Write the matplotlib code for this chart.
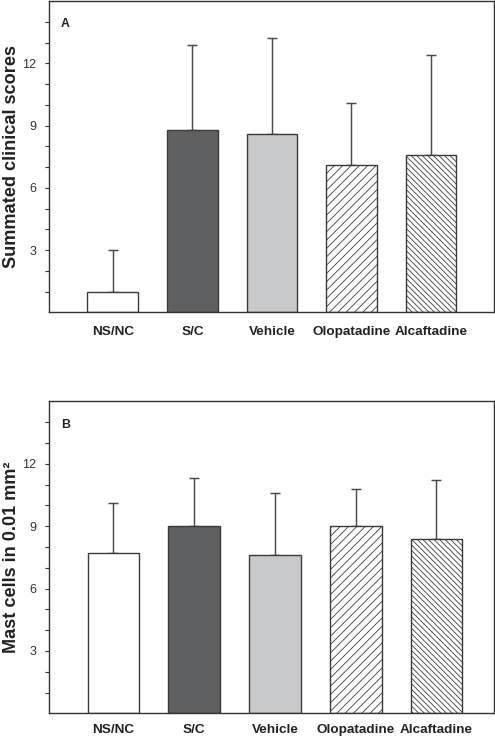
"""
Clinical scores and mast cell counts, two bar panels
"""
import numpy as np
import matplotlib
matplotlib.use('Agg')
import matplotlib.pyplot as plt

plt.rcParams['font.family'] = ['Liberation Sans', 'DejaVu Sans']
plt.rcParams['hatch.linewidth'] = 0.6
plt.rcParams['hatch.color'] = '#555555'

# data
groups = ['NS/NC', 'S/C', 'Vehicle', 'Olopatadine', 'Alcaftadine']
scores_mean = [1.0, 8.8, 8.6, 7.1, 7.6]
scores_sd = [2.0, 4.1, 4.6, 3.0, 4.8]
mast_mean = [7.7, 9.0, 7.6, 9.0, 8.4]
mast_sd = [2.4, 2.3, 3.0, 1.8, 2.8]

fills = ['white', '#5f6062', '#c8c9cb', 'white', 'white']
hatches = ['', '', '', '////', '\\' * 6]
edge = '#3a3a3a'

fig = plt.figure(figsize=(4.95, 7.37), dpi=100)
ax_a = fig.add_axes([0.0996, 0.576, 0.898, 0.4226])
ax_b = fig.add_axes([0.0996, 0.032, 0.898, 0.4235])


def draw_panel(ax, means, sds, ylabel, tag, xlim, xpad):
    x = np.arange(len(groups))
    for i in range(len(groups)):
        ax.bar(x[i], means[i], width=0.64, color=fills[i], edgecolor=edge,
               linewidth=1.0, hatch=hatches[i], zorder=2)
    ax.errorbar(x, means, yerr=[np.zeros(len(sds)), sds], fmt='none',
                ecolor='#4a4a4a', elinewidth=1.05, capsize=3.85, capthick=1.05,
                zorder=1)
    ax.set_xlim(*xlim)
    ax.set_ylim(0, 15)
    ax.set_yticks([3, 6, 9, 12])
    ax.set_yticks(np.arange(1, 15), minor=True)
    ax.set_xticks(x)
    ax.set_xticklabels(groups, fontweight='bold', fontsize=9.7, color='#222222')
    ax.tick_params(axis='x', length=0, pad=xpad)
    ax.tick_params(axis='y', which='both', direction='out', length=3.1,
                   width=0.8, color='#333333', labelsize=9, labelcolor='#333333',
                   pad=6.2)
    for s in ax.spines.values():
        s.set_color('#333333')
        s.set_linewidth(1.0)
    ax.set_ylabel(ylabel, fontsize=13.1, fontweight='bold', color='#222222')
    ax.yaxis.set_label_coords(-0.067, 0.5)
    ax.text(0.026, 0.944, tag, transform=ax.transAxes, fontsize=8.8,
            fontweight='bold', color='#222222', va='top')


draw_panel(ax_a, scores_mean, scores_sd, 'Summated clinical scores', 'A',
           (-0.8, 4.79), 9.8)
draw_panel(ax_b, mast_mean, mast_sd, 'Mast cells in 0.01 mm\u00b2', 'B',
           (-0.795, 4.71), 7.4)

fig.savefig('out.png', dpi=100)
